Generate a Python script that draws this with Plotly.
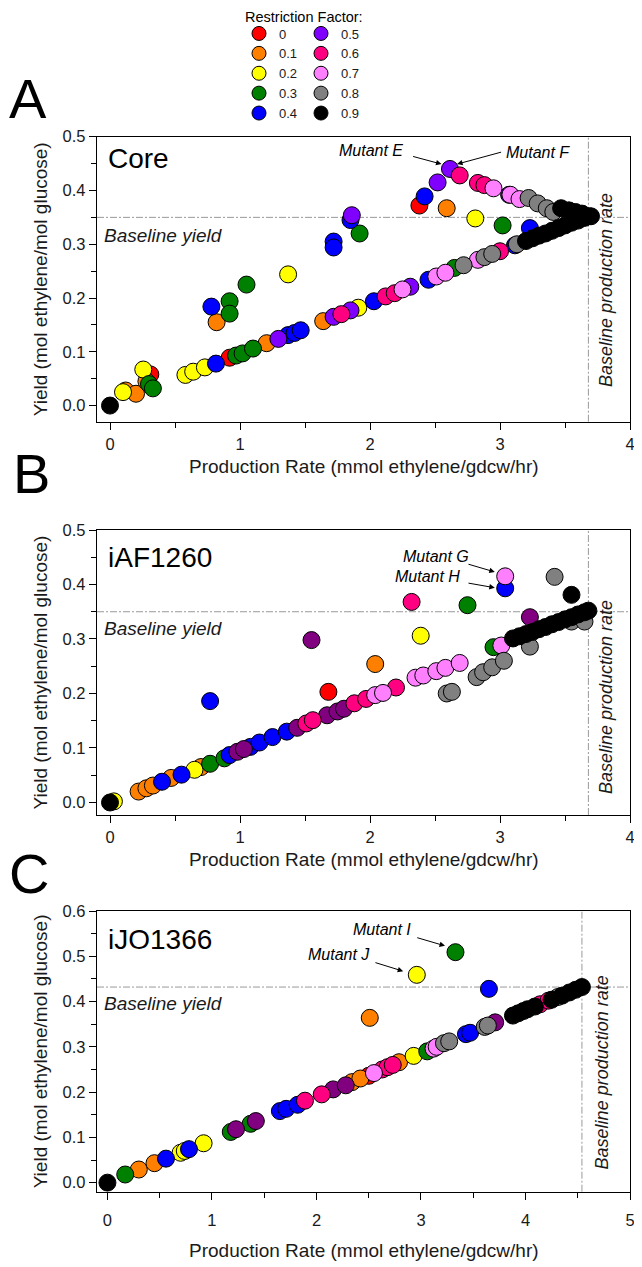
import plotly.graph_objects as go

# ---------------- data ----------------
factor_labels = ["0", "0.1", "0.2", "0.3", "0.4", "0.5", "0.6", "0.7", "0.8", "0.9"]
factor_colors = ["#FF0000", "#FF8000", "#FFFF00", "#008000", "#0000FF",
                 "#8000FF", "#FF0080", "#FF80FF", "#808080", "#000000"]
other_color = "#800080"  # dark purple points (not listed in legend)

panel_names = ["Core", "iAF1260", "iJO1366"]
panel_letters = ["A", "B", "C"]
baseline_yield = [0.35, 0.35, 0.432]
baseline_rate = [3.68, 3.68, 4.54]

# ---- Core (A) ----
core_rf0_rate = [0.31, 0.92, 2.38]
core_rf0_yield = [0.058, 0.089, 0.372]
core_rf1_rate = [0.12, 0.20, 0.28, 0.82, 1.205, 1.64, 2.59]
core_rf1_yield = [0.028, 0.022, 0.045, 0.155, 0.116, 0.157, 0.367]
core_rf2_rate = [0.10, 0.256, 0.58, 0.64, 0.73, 1.37, 1.91, 2.81]
core_rf2_yield = [0.025, 0.067, 0.057, 0.063, 0.071, 0.244, 0.182, 0.348]
core_rf3_rate = [0.30, 0.33, 0.92, 0.92, 0.97, 1.02, 1.05, 1.10, 1.92, 2.65, 3.02]
core_rf3_yield = [0.040, 0.032, 0.194, 0.171, 0.093, 0.097, 0.225, 0.106, 0.320, 0.256, 0.335]
core_rf4_rate = [0.78, 0.815, 1.37, 1.42, 1.467, 1.72, 1.72, 1.85, 2.03, 2.42, 2.45, 3.115, 3.23]
core_rf4_yield = [0.184, 0.078, 0.131, 0.135, 0.140, 0.305, 0.294, 0.345, 0.194, 0.389, 0.234, 0.298, 0.330]
core_rf5_rate = [1.295, 1.72, 1.85, 1.86, 2.31, 2.52, 2.615, 3.07]
core_rf5_yield = [0.124, 0.165, 0.177, 0.354, 0.221, 0.415, 0.440, 0.392]
core_rf6_rate = [1.78, 2.12, 2.19, 2.69, 2.83, 2.88, 3.00]
core_rf6_yield = [0.170, 0.203, 0.209, 0.428, 0.414, 0.410, 0.287]
core_rf7_rate = [2.25, 2.51, 2.58, 2.83, 2.95, 3.08, 3.15]
core_rf7_yield = [0.216, 0.240, 0.247, 0.271, 0.404, 0.392, 0.384]
core_rf8_rate = [2.72, 2.88, 2.94, 3.13, 3.22, 3.29, 3.36, 3.41]
core_rf8_yield = [0.261, 0.276, 0.282, 0.300, 0.386, 0.376, 0.367, 0.360]
core_rf9_rate = [0.0, 3.20, 3.25, 3.30, 3.35, 3.40, 3.45, 3.50, 3.55, 3.60, 3.65, 3.68,
                 3.47, 3.53, 3.58, 3.63, 3.70]
core_rf9_yield = [0.0, 0.306, 0.311, 0.316, 0.320, 0.325, 0.330, 0.335, 0.340, 0.344, 0.349, 0.352,
                  0.367, 0.363, 0.360, 0.357, 0.352]
core_other_rate = []
core_other_yield = []

# ---- iAF1260 (B) ----
iaf_rf0_rate = [1.68]
iaf_rf0_yield = [0.203]
iaf_rf1_rate = [0.22, 0.28, 0.33, 0.47, 0.70, 2.04]
iaf_rf1_yield = [0.020, 0.026, 0.031, 0.045, 0.065, 0.254]
iaf_rf2_rate = [0.03, 0.65, 2.39]
iaf_rf2_yield = [0.002, 0.060, 0.306]
iaf_rf3_rate = [0.77, 0.88, 2.75, 2.95, 3.18]
iaf_rf3_yield = [0.071, 0.081, 0.362, 0.285, 0.305]
iaf_rf4_rate = [0.40, 0.55, 0.77, 0.92, 1.08, 1.15, 1.25, 1.36, 3.04]
iaf_rf4_yield = [0.038, 0.051, 0.186, 0.087, 0.102, 0.110, 0.120, 0.130, 0.393]
iaf_rf5_rate = []
iaf_rf5_yield = []
iaf_rf6_rate = [1.51, 1.56, 1.88, 1.97, 2.20, 2.32]
iaf_rf6_yield = [0.145, 0.151, 0.182, 0.190, 0.211, 0.368]
iaf_rf7_rate = [2.04, 2.10, 2.35, 2.41, 2.51, 2.58, 2.69, 3.01, 3.04]
iaf_rf7_yield = [0.197, 0.201, 0.229, 0.233, 0.241, 0.247, 0.256, 0.288, 0.415]
iaf_rf8_rate = [2.59, 2.63, 2.82, 2.87, 2.94, 3.03, 3.23, 3.42, 3.55, 3.65]
iaf_rf8_yield = [0.200, 0.203, 0.230, 0.239, 0.248, 0.260, 0.286, 0.414, 0.332, 0.332]
iaf_rf9_rate = [0.0, 3.10, 3.15, 3.20, 3.25, 3.30, 3.35, 3.40, 3.45, 3.50, 3.55, 3.60, 3.65, 3.68, 3.55]
iaf_rf9_yield = [0.0, 0.301, 0.305, 0.309, 0.313, 0.318, 0.322, 0.327, 0.331, 0.336, 0.340, 0.345,
                 0.349, 0.352, 0.381]
iaf_other_rate = [0.98, 1.03, 1.44, 1.55, 1.67, 1.75, 1.80, 3.23]
iaf_other_yield = [0.093, 0.098, 0.137, 0.298, 0.160, 0.167, 0.172, 0.340]

# ---- iJO1366 (C) ----
ijo_rf0_rate = [2.50]
ijo_rf0_yield = [0.236]
ijo_rf1_rate = [0.30, 0.45, 2.34, 2.42, 2.51, 2.79]
ijo_rf1_yield = [0.029, 0.043, 0.222, 0.230, 0.364, 0.266]
ijo_rf2_rate = [0.70, 0.74, 0.92, 2.93, 2.96]
ijo_rf2_yield = [0.066, 0.070, 0.087, 0.280, 0.459]
ijo_rf3_rate = [0.17, 1.18, 1.37, 3.06, 3.33]
ijo_rf3_yield = [0.018, 0.112, 0.130, 0.290, 0.509]
ijo_rf4_rate = [0.56, 0.78, 1.65, 1.71, 1.82, 3.43, 3.47, 3.65]
ijo_rf4_yield = [0.053, 0.074, 0.158, 0.163, 0.172, 0.328, 0.331, 0.428]
ijo_rf5_rate = []
ijo_rf5_yield = []
ijo_rf6_rate = [1.89, 2.05, 2.63, 2.68, 2.73, 4.14, 4.22]
ijo_rf6_yield = [0.181, 0.195, 0.250, 0.255, 0.260, 0.394, 0.402]
ijo_rf7_rate = [2.55, 3.12, 3.15]
ijo_rf7_yield = [0.242, 0.296, 0.300]
ijo_rf8_rate = [3.22, 3.27, 3.61, 3.64, 4.31]
ijo_rf8_yield = [0.308, 0.312, 0.344, 0.347, 0.410]
ijo_rf9_rate = [0.0, 3.88, 3.93, 3.98, 4.02, 4.09, 4.25, 4.35, 4.42, 4.48, 4.54]
ijo_rf9_yield = [0.0, 0.369, 0.374, 0.379, 0.383, 0.389, 0.404, 0.413, 0.420, 0.426, 0.432]
ijo_other_rate = [1.23, 1.42, 2.16, 2.28, 3.71]
ijo_other_yield = [0.118, 0.136, 0.206, 0.215, 0.354]

# mutant labels: (panel, text, text x, text y, arrow tail x, tail y, head x, head y)
mutant_notes = [
    (0, "Mutant E", 2.01, 0.474, 2.32, 0.464, 2.55, 0.449),
    (0, "Mutant F", 3.29, 0.470, 3.02, 0.472, 2.67, 0.449),
    (1, "Mutant G", 2.51, 0.452, 2.746, 0.438, 2.96, 0.423),
    (1, "Mutant H", 2.44, 0.414, 2.746, 0.403, 2.96, 0.394),
    (2, "Mutant I", 2.63, 0.560, 2.95, 0.542, 3.23, 0.523),
    (2, "Mutant J", 2.22, 0.503, 2.55, 0.487, 2.83, 0.467),
]

panels = [
    [(core_rf0_rate, core_rf0_yield), (core_rf1_rate, core_rf1_yield), (core_rf2_rate, core_rf2_yield),
     (core_rf3_rate, core_rf3_yield), (core_rf4_rate, core_rf4_yield), (core_rf5_rate, core_rf5_yield),
     (core_other_rate, core_other_yield),
     (core_rf6_rate, core_rf6_yield), (core_rf7_rate, core_rf7_yield), (core_rf8_rate, core_rf8_yield),
     (core_rf9_rate, core_rf9_yield)],
    [(iaf_rf0_rate, iaf_rf0_yield), (iaf_rf1_rate, iaf_rf1_yield), (iaf_rf2_rate, iaf_rf2_yield),
     (iaf_rf3_rate, iaf_rf3_yield), (iaf_rf4_rate, iaf_rf4_yield), (iaf_rf5_rate, iaf_rf5_yield),
     (iaf_other_rate, iaf_other_yield),
     (iaf_rf6_rate, iaf_rf6_yield), (iaf_rf7_rate, iaf_rf7_yield), (iaf_rf8_rate, iaf_rf8_yield),
     (iaf_rf9_rate, iaf_rf9_yield)],
    [(ijo_rf0_rate, ijo_rf0_yield), (ijo_rf1_rate, ijo_rf1_yield), (ijo_rf2_rate, ijo_rf2_yield),
     (ijo_rf3_rate, ijo_rf3_yield), (ijo_rf4_rate, ijo_rf4_yield), (ijo_rf5_rate, ijo_rf5_yield),
     (ijo_other_rate, ijo_other_yield),
     (ijo_rf6_rate, ijo_rf6_yield), (ijo_rf7_rate, ijo_rf7_yield), (ijo_rf8_rate, ijo_rf8_yield),
     (ijo_rf9_rate, ijo_rf9_yield)],
]
series_labels = ["0", "0.1", "0.2", "0.3", "0.4", "0.5", "other", "0.6", "0.7", "0.8", "0.9"]

# ---------------- layout geometry ----------------
# page is drawn with an 8px body margin, so figure pixel = page pixel - OFF
OFF = 8
PAGE_W, PAGE_H = 642, 1267
W, H = PAGE_W - OFF, PAGE_H - OFF
PLOT_LEFT, PLOT_RIGHT = 97, 630          # page pixels
ML = PLOT_LEFT - OFF
MR = W - (PLOT_RIGHT - OFF)
PW = W - ML - MR


def paper_x(page_x):
    return (page_x - OFF - ML) / PW


def paper_y(page_y):
    return 1 - (page_y - OFF) / H


x_ranges = [[-0.1, 4.0], [-0.1, 4.0], [-0.1, 5.0]]
y_ranges = [[-0.03, 0.5], [-0.023, 0.5], [-0.02, 0.6]]
x_tick_max = [4, 4, 5]
panel_px = [(136.7, 421.7), (530.0, 815.0), (911.0, 1191.7)]  # page top, bottom
y_domains = [[paper_y(b), paper_y(t)] for t, b in panel_px]

FONT = "Liberation Sans, Arial, Helvetica, sans-serif"
TXT = "#1a1a1a"

fig = go.Figure()

# legend entries (legend-only traces)
for label, color in zip(factor_labels, factor_colors):
    leg = "legend" if label in factor_labels[:5] else "legend2"
    fig.add_trace(go.Scatter(
        x=[None], y=[None], mode="markers", name=label, legendgroup=label, legend=leg,
        marker=dict(size=14, color=color, line=dict(color="black", width=1)),
        showlegend=True, hoverinfo="skip",
    ))

for p, series in enumerate(panels):
    xa = "x" if p == 0 else f"x{p+1}"
    ya = "y" if p == 0 else f"y{p+1}"
    for label, (xs, ys) in zip(series_labels, series):
        if label == "other":
            color = other_color
        else:
            color = factor_colors[factor_labels.index(label)]
        fig.add_trace(go.Scatter(
            x=xs, y=ys, mode="markers", xaxis=xa, yaxis=ya,
            name=label, legendgroup=label, showlegend=False,
            marker=dict(size=17, color=color, line=dict(color="black", width=1)),
            hoverinfo="x+y+name",
        ))

axis_common = dict(
    showline=True, linecolor="black", linewidth=1.3, mirror=True,
    ticks="outside", ticklen=7, tickwidth=1.3, tickcolor="black",
    showgrid=False, zeroline=False,
    tickfont=dict(size=16.5, color=TXT, family=FONT),
)

legend_common = dict(xanchor="left", yanchor="top", bgcolor="rgba(0,0,0,0)",
                     font=dict(size=13, family=FONT, color=TXT), tracegroupgap=0,
                     itemsizing="trace", itemclick=False, itemdoubleclick=False)

layout = dict(
    width=W, height=H,
    margin=dict(l=ML, r=MR, t=0, b=0, autoexpand=False),
    plot_bgcolor="white", paper_bgcolor="white",
    font=dict(family=FONT, color="black"),
    showlegend=True,
    legend=dict(legend_common, x=paper_x(239), y=paper_y(18.5)),
    legend2=dict(legend_common, x=paper_x(301), y=paper_y(18.5)),
)

for p in range(3):
    xk = "xaxis" if p == 0 else f"xaxis{p+1}"
    yk = "yaxis" if p == 0 else f"yaxis{p+1}"
    ya = "y" if p == 0 else f"y{p+1}"
    xa = "x" if p == 0 else f"x{p+1}"
    layout[xk] = dict(axis_common, domain=[0, 1], anchor=ya, range=x_ranges[p],
                      tickmode="array", tickvals=list(range(0, x_tick_max[p] + 1)),
                      minor=dict(ticks="outside", ticklen=5, tickwidth=1.3, tickcolor="black",
                                 dtick=0.5, tick0=0, showgrid=False),
                      ticklabelstandoff=(6 if p == 2 else 0))
    layout[yk] = dict(axis_common, domain=y_domains[p], anchor=xa, range=y_ranges[p],
                      tickmode="linear", tick0=0, dtick=0.1, tickformat=".1f",
                      minor=dict(ticks="outside", ticklen=5, tickwidth=1.3, tickcolor="black",
                                 dtick=0.05, tick0=0, showgrid=False))

fig.update_layout(**layout)

shapes = []
annotations = []
dash_style = "7px,2px,2px,2px"
for p in range(3):
    xa = "x" if p == 0 else f"x{p+1}"
    ya = "y" if p == 0 else f"y{p+1}"
    shapes.append(dict(type="line", xref=f"{xa} domain", yref=ya, x0=0, x1=1,
                       y0=baseline_yield[p], y1=baseline_yield[p],
                       line=dict(color="#9a9a9a", width=1, dash=dash_style), layer="below"))
    shapes.append(dict(type="line", xref=xa, yref=f"{ya} domain", y0=0, y1=1,
                       x0=baseline_rate[p], x1=baseline_rate[p],
                       line=dict(color="#9a9a9a", width=1, dash=dash_style), layer="below"))

name_y = [0.925, 0.905, 0.897]
base_yield_y = [0.655, 0.653, 0.672]
base_rate_x = [0.955, 0.955, 0.948]
base_rate_y = [0.462, 0.414, 0.426]
xtitle_page_y = [466, 859, 1250]
letter_page = [(28, 99), (31, 473), (29, 874)]
for p in range(3):
    xa = "x" if p == 0 else f"x{p+1}"
    ya = "y" if p == 0 else f"y{p+1}"
    annotations.append(dict(text=panel_names[p], xref=f"{xa} domain", yref=f"{ya} domain",
                            x=0.016, y=name_y[p], xanchor="left", yanchor="middle",
                            showarrow=False, font=dict(size=28, family=FONT, color="black")))
    annotations.append(dict(text="<i>Baseline yield</i>", xref=f"{xa} domain", yref=f"{ya} domain",
                            x=0.01, y=base_yield_y[p], xanchor="left", yanchor="middle",
                            showarrow=False, font=dict(size=19, family=FONT, color=TXT)))
    annotations.append(dict(text="<i>Baseline production rate</i>", xref=f"{xa} domain",
                            yref=f"{ya} domain", x=base_rate_x[p], y=base_rate_y[p],
                            xanchor="center", yanchor="middle", textangle=-90,
                            showarrow=False, font=dict(size=18, family=FONT, color=TXT)))
    t, b = panel_px[p]
    annotations.append(dict(text="Yield (mol ethylene/mol glucose)", xref="paper", yref="paper",
                            x=paper_x(40), y=paper_y((t + b) / 2),
                            xanchor="center", yanchor="middle", textangle=-90, showarrow=False,
                            font=dict(size=19, family=FONT, color=TXT)))
    annotations.append(dict(text="Production Rate (mmol ethylene/gdcw/hr)", xref="paper", yref="paper",
                            x=0.5, y=paper_y(xtitle_page_y[p]), xanchor="center", yanchor="middle",
                            showarrow=False, font=dict(size=19, family=FONT, color=TXT)))
    lx, ly = letter_page[p]
    annotations.append(dict(text=panel_letters[p], xref="paper", yref="paper",
                            x=paper_x(lx), y=paper_y(ly), xanchor="center",
                            yanchor="middle", showarrow=False,
                            font=dict(size=56, family=FONT, color="black")))

for p, txt, tx, ty, ax, ay, hx, hy in mutant_notes:
    xa = "x" if p == 0 else f"x{p+1}"
    ya = "y" if p == 0 else f"y{p+1}"
    annotations.append(dict(text=f"<i>{txt}</i>", xref=xa, yref=ya, x=tx, y=ty,
                            xanchor="center", yanchor="middle", showarrow=False,
                            font=dict(size=16, family=FONT, color="black")))
    annotations.append(dict(text="", xref=xa, yref=ya, x=hx, y=hy, axref=xa, ayref=ya,
                            ax=ax, ay=ay, showarrow=True, arrowhead=2, arrowsize=1.1,
                            arrowwidth=1, arrowcolor="black", standoff=0, startstandoff=0))

annotations.append(dict(text="Restriction Factor:", xref="paper", yref="paper",
                        x=paper_x(304), y=paper_y(17.5), xanchor="center",
                        yanchor="middle", showarrow=False,
                        font=dict(size=14.5, family=FONT, color="black")))

fig.update_layout(shapes=shapes, annotations=annotations)
fig.write_html("out.html")
